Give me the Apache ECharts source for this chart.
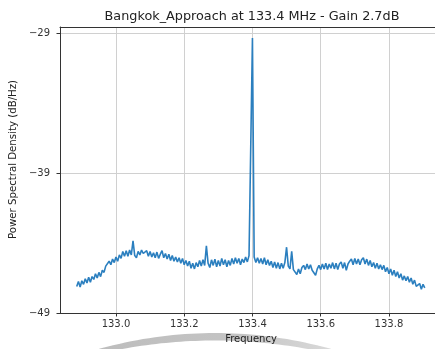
<!DOCTYPE html>
<html>
<head>
<meta charset="utf-8">
<script src="https://cdn.jsdelivr.net/npm/echarts@6/dist/echarts.min.js"></script>
<style>
html,body{margin:0;padding:0;background:#fff;}
#chart{width:435px;height:349px;}
</style>
</head>
<body>
<div id="chart"></div>
<script>
var chartTitle = 'Bangkok_Approach at 133.4 MHz - Gain 2.7dB';
var xName = 'Frequency';
var yName = 'Power Spectral Density (dB/Hz)';
var yTicks = [-49, -39, -29];

var freqs = [
132.885,132.89,132.895,132.9,132.905,132.91,132.915,132.92,132.925,132.93,
132.935,132.94,132.945,132.95,132.955,132.96,132.965,132.97,132.975,132.98,
132.985,132.99,132.995,133.0,133.005,133.01,133.015,133.02,133.025,133.03,
133.035,133.04,133.045,133.05,133.055,133.06,133.065,133.07,133.075,133.08,
133.085,133.09,133.095,133.1,133.105,133.11,133.115,133.12,133.125,133.13,
133.135,133.14,133.145,133.15,133.155,133.16,133.165,133.17,133.175,133.18,
133.185,133.19,133.195,133.2,133.205,133.21,133.215,133.22,133.225,133.23,
133.235,133.24,133.245,133.25,133.255,133.26,133.265,133.27,133.275,133.28,
133.285,133.29,133.295,133.3,133.305,133.31,133.315,133.32,133.325,133.33,
133.335,133.34,133.345,133.35,133.355,133.36,133.365,133.37,133.375,133.38,
133.385,133.39,133.395,133.4,133.405,133.41,133.415,133.42,133.425,133.43,
133.435,133.44,133.445,133.45,133.455,133.46,133.465,133.47,133.475,133.48,
133.485,133.49,133.495,133.5,133.505,133.51,133.515,133.52,133.525,133.53,
133.535,133.54,133.545,133.55,133.555,133.56,133.565,133.57,133.575,133.58,
133.585,133.59,133.595,133.6,133.605,133.61,133.615,133.62,133.625,133.63,
133.635,133.64,133.645,133.65,133.655,133.66,133.665,133.67,133.675,133.68,
133.685,133.69,133.695,133.7,133.705,133.71,133.715,133.72,133.725,133.73,
133.735,133.74,133.745,133.75,133.755,133.76,133.765,133.77,133.775,133.78,
133.785,133.79,133.795,133.8,133.805,133.81,133.815,133.82,133.825,133.83,
133.835,133.84,133.845,133.85,133.855,133.86,133.865,133.87,133.875,133.88,
133.885,133.89,133.895,133.9,133.905
];

var psd = [
-47.1,-46.75,-47.15,-46.7,-46.95,-46.55,-46.85,-46.45,-46.8,-46.4,
-46.6,-46.2,-46.5,-46.1,-46.4,-45.95,-46.1,-45.65,-45.75,-45.3,
-45.55,-45.15,-45.4,-45.0,-45.3,-44.85,-45.1,-44.6,-44.95,-44.55,
-44.95,-44.5,-44.85,-43.85,-44.9,-45.05,-44.6,-44.85,-44.5,-44.75,
-44.8,-44.55,-44.95,-44.6,-45.0,-44.7,-45.05,-44.65,-45.1,-44.8,
-44.55,-45.05,-44.75,-45.15,-44.8,-45.25,-44.9,-45.3,-45.0,-45.35,
-45.05,-45.45,-45.1,-45.55,-45.25,-45.65,-45.3,-45.8,-45.45,-45.85,
-45.4,-45.7,-45.25,-45.65,-45.2,-45.6,-44.2,-45.45,-45.75,-45.2,
-45.6,-45.15,-45.7,-45.25,-45.65,-45.1,-45.55,-45.2,-45.7,-45.25,
-45.6,-45.1,-45.5,-45.05,-45.45,-45.1,-45.55,-45.15,-45.4,-45.0,
-45.35,-44.9,-45.0,-29.36,-45.0,-45.4,-45.05,-45.45,-45.1,-45.5,
-45.05,-45.55,-45.2,-45.6,-45.3,-45.75,-45.35,-45.8,-45.4,-45.85,
-45.45,-45.8,-45.4,-44.3,-45.65,-45.85,-44.6,-45.9,-46.0,-46.25,
-45.85,-46.2,-45.75,-45.6,-45.9,-45.5,-45.85,-45.55,-45.95,-46.05,
-46.3,-45.85,-45.6,-45.9,-45.5,-45.85,-45.45,-45.9,-45.5,-45.8,
-45.4,-45.85,-45.45,-45.9,-45.5,-45.35,-45.8,-45.4,-45.95,-45.5,
-45.3,-45.15,-45.55,-45.1,-45.5,-45.15,-45.55,-45.2,-45.05,-45.5,
-45.15,-45.6,-45.25,-45.7,-45.4,-45.8,-45.45,-45.85,-45.55,-45.9,
-45.6,-46.05,-45.75,-46.2,-45.85,-46.3,-45.95,-46.4,-46.05,-46.5,
-46.2,-46.65,-46.35,-46.7,-46.4,-46.8,-46.5,-46.95,-46.65,-47.1,
-47.2,-46.9,-47.3,-46.95,-47.2
];

var FONT = 'DejaVu Sans';
var seriesData = freqs.map(function (f, i) { return [f, psd[i]]; });

function fmtMinus(v) {
  var s = String(Math.round(v));
  return s.replace('-', '\u2212');
}

// decorative grey arc at the bottom of the picture (not data)
function quad(p0, c, p1, n) {
  var pts = [];
  for (var k = 0; k <= n; k++) {
    var t = k / n, u = 1 - t;
    pts.push([u * u * p0[0] + 2 * u * t * c[0] + t * t * p1[0],
              u * u * p0[1] + 2 * u * t * c[1] + t * t * p1[1]]);
  }
  return pts;
}
var arcPts = quad([95, 350], [215, 316], [335, 350], 40)
  .concat(quad([313, 350], [215, 331], [117, 350], 40));

var chart = echarts.init(document.getElementById('chart'), null, {renderer: 'canvas'});
chart.setOption({
  animation: false,
  backgroundColor: '#ffffff',
  title: {
    text: chartTitle,
    left: 247,
    top: 5,
    textAlign: 'center',
    textStyle: {fontFamily: FONT, fontSize: 12.8, fontWeight: 'normal', color: '#222'}
  },
  grid: {left: 60, top: 27, right: 0, bottom: 36, containLabel: false},
  xAxis: [{
    type: 'value',
    min: 132.836,
    max: 133.935,
    splitNumber: 5,
    name: xName,
    nameLocation: 'middle',
    nameGap: 21,
    nameTextStyle: {fontFamily: FONT, fontSize: 10, color: '#222', padding: [0, 0, 0, 7]},
    axisLine: {show: true, onZero: false, lineStyle: {color: '#333', width: 1}},
    axisTick: {show: true, length: 3.5, lineStyle: {color: '#333'}},
    axisLabel: {fontFamily: FONT, fontSize: 10, color: '#333', margin: 6,
      showMinLabel: false, showMaxLabel: false,
      formatter: function (v) { return v.toFixed(1); }},
    splitLine: {show: true, showMinLine: false, showMaxLine: false,
      lineStyle: {color: '#d0d0d0', width: 1}}
  }, {
    type: 'value',
    position: 'top',
    min: 132.836,
    max: 133.935,
    axisLine: {show: true, onZero: false, lineStyle: {color: '#333', width: 1}},
    axisTick: {show: false},
    axisLabel: {show: false},
    splitLine: {show: false}
  }],
  yAxis: {
    type: 'value',
    min: yTicks[0],
    max: -28.57,
    interval: 10,
    name: yName,
    nameLocation: 'middle',
    nameGap: 28,
    nameTextStyle: {fontFamily: FONT, fontSize: 10.2, color: '#222', padding: [0, 0, 0, 21]},
    axisLine: {show: true, onZero: false, lineStyle: {color: '#333', width: 1}},
    axisTick: {show: true, length: 3.5, lineStyle: {color: '#333'}},
    axisLabel: {fontFamily: FONT, fontSize: 10, color: '#333', margin: 10,
      showMaxLabel: false,
      formatter: function (v) { return fmtMinus(v); }},
    splitLine: {show: true, showMaxLine: false, lineStyle: {color: '#d0d0d0', width: 1}}
  },
  graphic: [{
    type: 'polygon',
    z: -1,
    silent: true,
    shape: {points: arcPts},
    style: {
      fill: {
        type: 'linear', x: 0, y: 0, x2: 1, y2: 0,
        colorStops: [
          {offset: 0, color: '#bdbdbd'},
          {offset: 0.6, color: '#c4c4c4'},
          {offset: 1, color: '#dadada'}
        ]
      }
    }
  }],
  series: [{
    type: 'line',
    data: seriesData,
    showSymbol: false,
    symbol: 'none',
    lineStyle: {color: '#2b7fbf', width: 1.6},
    itemStyle: {color: '#2b7fbf'},
    clip: true
  }]
});
</script>
</body>
</html>
